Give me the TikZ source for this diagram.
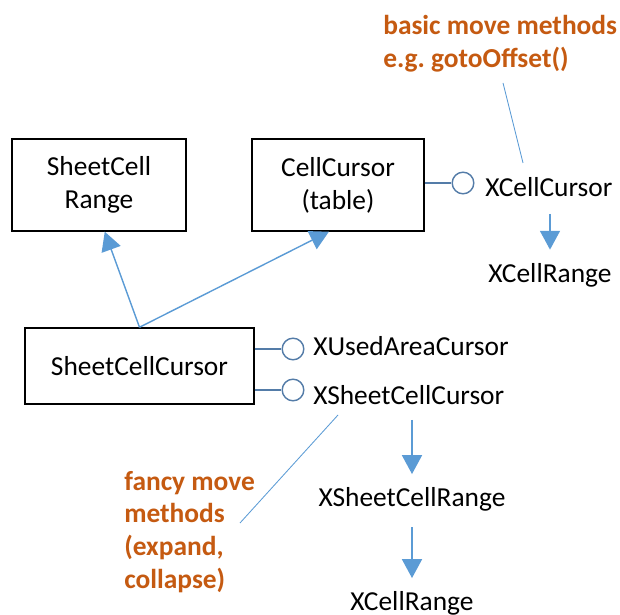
\documentclass[tikz,border=0pt]{standalone}
\usepackage{fontspec}
\setmainfont{Carlito}
\usetikzlibrary{arrows.meta,positioning}
\definecolor{accentblue}{RGB}{91,155,213}
\definecolor{lollyblue}{RGB}{84,124,168}
\definecolor{noteorange}{RGB}{197,90,17}

\begin{document}
\begin{tikzpicture}[x=0.025cm,y=-0.025cm]
  \tikzset{
    classbox/.style={rectangle,draw=black,line width=1pt,align=center,font=\fontsize{19.5}{23.4}\selectfont},
    iface/.style={font=\fontsize{19.5}{23.4}\selectfont,inner sep=0pt},
    lolly/.style={circle,draw=lollyblue,line width=1pt,minimum size=0.54cm,inner sep=0pt},
    lollyline/.style={draw=lollyblue,line width=1pt},
    inherit/.style={draw=accentblue,line width=1pt,-{Triangle[width=0.5cm,length=0.47cm]}},
    noteline/.style={draw=accentblue,line width=0.6pt},
    note/.style={font=\bfseries\fontsize{19.5}{23.4}\selectfont,text=noteorange,align=left,inner sep=0pt}
  }
  \useasboundingbox (0,0) rectangle (620,615);

  % Class boxes
  \node[classbox,minimum width=4.35cm,minimum height=2.3cm] (rng) at (99,185) {SheetCell\\Range};
  \node[classbox,minimum width=4.3cm,minimum height=2.3cm] (cur) at (338,185) {CellCursor\\(table)};
  \node[classbox,minimum width=5.72cm,minimum height=1.9cm] (scc) at (139.5,366) {SheetCellCursor};

  % Interfaces
  \node[lolly] (c1) at (463,183) {};
  \node[iface,anchor=west] (xcc) at (485,187) {XCellCursor};
  \node[iface] (xcr) at (550,275) {XCellRange};
  \node[lolly] (c2) at (293,349) {};
  \node[iface,anchor=west] (xuac) at (313,346) {XUsedAreaCursor};
  \node[lolly] (c3) at (293,390) {};
  \node[iface,anchor=west] (xscc) at (313,395) {XSheetCellCursor};
  \node[iface] (xscr) at (412,499) {XSheetCellRange};
  \node[iface] (xcr2) at (412,603) {XCellRange};

  % Notes
  \node[note,anchor=west] (basic) at (383,44) {basic move methods\\e.g.\ gotoOffset()};
  \node[note,anchor=west] (fancy) at (124,532) {fancy move\\methods\\(expand,\\collapse)};
  \coordinate (b1) at (503,83);
  \coordinate (b2) at (523,163);
  \coordinate (f1) at (338,415);
  \coordinate (f2) at (240,523);

  % Lollipops
  \draw[lollyline] (cur.east |- c1) -- (c1.west);
  \draw[lollyline] (scc.east |- c2) -- (c2.west);
  \draw[lollyline] (scc.east |- c3) -- (c3.west);

  % Inheritance arrows
  \draw[inherit] (scc.north) -- (rng.-83);
  \draw[inherit] (scc.north) -- (cur.-101);
  \draw[inherit] (xcc.south -| xcr) ++(0,17) -- ([yshift=0.33cm]xcr.north);
  \draw[inherit] (xscc.south -| xscr) ++(0,15) -- ([yshift=0.32cm]xscr.north);
  \draw[inherit] ([yshift=-0.4cm]xscr.south) -- ([yshift=0.32cm]xcr2.north);

  % Note lines
  \draw[noteline] (b1) -- (b2);
  \draw[noteline] (f1) -- (f2);
\end{tikzpicture}
\end{document}
